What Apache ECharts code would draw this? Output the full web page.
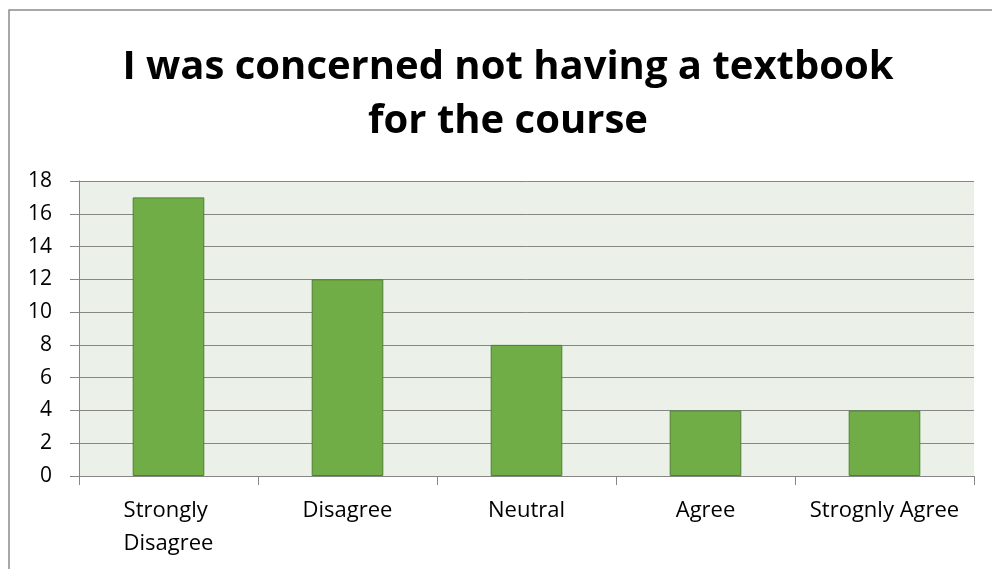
<!DOCTYPE html>
<html><head><meta charset="utf-8">
<script src="https://cdn.jsdelivr.net/npm/echarts@6/dist/echarts.min.js"></script>
<style>html,body{margin:0;padding:0;background:#fff}#c{width:992px;height:569px}</style>
</head><body><div id="c"></div>
<script>
const titleText = "I was concerned not having a textbook\nfor the course";
const categories = ["Strongly Disagree", "Disagree", "Neutral", "Agree", "Strognly Agree"];
const values = [17, 12, 8, 4, 4];
const yTicks = {min: 0, max: 18, interval: 2};

const chart = echarts.init(document.getElementById('c'));
chart.setOption({
  animation: false,
  backgroundColor: '#ffffff',
  graphic: [{
    type: 'rect', shape: {x: 9, y: 10, width: 1000, height: 600},
    style: {fill: 'none', stroke: '#8c8c8c', lineWidth: 1.5}, z: -1
  }],
  title: {
    text: titleText, left: 503, top: 36, textAlign: 'center',
    textStyle: {fontFamily: 'Open Sans', fontWeight: 'bold', fontSize: 40, lineHeight: 54, color: '#000'}
  },
  grid: {left: 79, top: 181, right: 18, bottom: 93, show: true, backgroundColor: '#ebf0e8', borderWidth: 0},
  xAxis: {
    type: 'category', data: categories,
    axisLine: {lineStyle: {color: '#868686', width: 1}},
    axisTick: {show: true, length: 9, lineStyle: {color: '#868686'}},
    axisLabel: {color: '#000', fontFamily: 'Open Sans', fontSize: 22, margin: 18, lineHeight: 33, width: 170, overflow: 'break', interval: 0}
  },
  yAxis: {
    type: 'value', min: yTicks.min, max: yTicks.max, interval: yTicks.interval,
    axisLine: {show: true, lineStyle: {color: '#868686', width: 1}},
    axisTick: {show: true, length: 9, lineStyle: {color: '#868686'}},
    splitLine: {lineStyle: {color: '#868686', width: 1}},
    axisLabel: {color: '#000', fontFamily: 'Open Sans', fontSize: 21, margin: 27}
  },
  series: [{
    type: 'bar', data: values, barWidth: '40%',
    itemStyle: {color: '#70ad47', borderColor: '#4f7f33', borderWidth: 1}
  }]
});
</script></body></html>
